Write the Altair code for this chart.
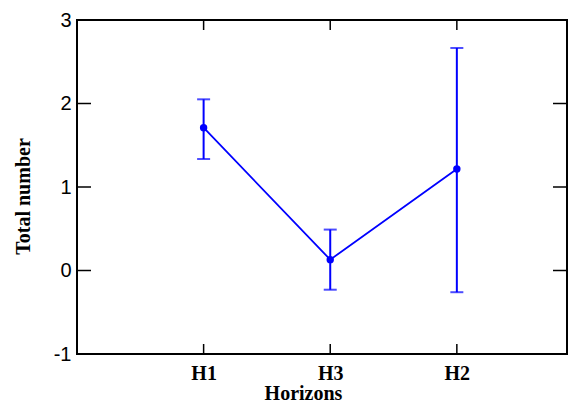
import altair as alt
import pandas as pd

categories = ["H1", "H3", "H2"]
positions = [1, 2, 3]
means = [1.71, 0.13, 1.215]
lows = [1.335, -0.23, -0.26]
highs = [2.05, 0.49, 2.665]
y_ticks = [-1, 0, 1, 2, 3]

df = pd.DataFrame({"pos": positions, "cat": categories, "mean": means, "low": lows, "high": highs})
yt = pd.DataFrame({"v": y_ticks})

W, H = 490, 334
xdom = [0, 3.87]
ydom = [-1, 3]
blue = "#0000FF"

label_expr = " : ".join([f"datum.value == {p} ? '{c}'" for p, c in zip(positions, categories)]) + " : ''"

xscale = alt.Scale(domain=xdom, nice=False, zero=False)
yscale = alt.Scale(domain=ydom, nice=False, zero=False)

base = alt.Chart(df)

line = base.mark_line(color=blue, strokeWidth=1.8).encode(
    x=alt.X("pos:Q", scale=xscale, axis=alt.Axis(
        values=positions, labelExpr=label_expr, ticks=False, grid=False, domain=False,
        labelFont="Liberation Serif", labelFontWeight="bold", labelFontSize=20, labelColor="black",
        labelPadding=9, title="Horizons", titleFont="Liberation Serif", titleFontWeight="bold",
        titleFontSize=20, titleColor="black", titleX=226, titleY=45, titleAnchor="middle", titleAlign="center",
        titleBaseline="alphabetic")),
    y=alt.Y("mean:Q", scale=yscale, axis=alt.Axis(
        values=y_ticks, ticks=False, grid=False, domain=False, labelExpr="'' + datum.value",
        labelFont="Liberation Sans", labelFontSize=20, labelColor="black", labelPadding=6,
        title="Total number", titleFont="Liberation Serif", titleFontWeight="bold", titleFontSize=20,
        titleColor="black", titleX=-54, titleY=176, titleAngle=270, titleAlign="center",
        titleBaseline="middle")),
)

points = base.mark_circle(color=blue, size=55, opacity=1).encode(x=alt.X("pos:Q", scale=xscale), y=alt.Y("mean:Q", scale=yscale))

bars = base.mark_rule(color=blue, strokeWidth=2).encode(
    x=alt.X("pos:Q", scale=xscale), y=alt.Y("low:Q", scale=yscale), y2="high:Q")

caps_hi = base.mark_tick(color=blue, orient="horizontal", size=13, thickness=2).encode(
    x=alt.X("pos:Q", scale=xscale), y=alt.Y("high:Q", scale=yscale))
caps_lo = base.mark_tick(color=blue, orient="horizontal", size=13, thickness=2).encode(
    x=alt.X("pos:Q", scale=xscale), y=alt.Y("low:Q", scale=yscale))

tl = alt.Chart(yt).mark_rule(color="black", strokeWidth=1.5).encode(
    y=alt.Y("v:Q", scale=yscale), x=alt.value(0), x2=alt.value(14))
tr = alt.Chart(yt).mark_rule(color="black", strokeWidth=1.5).encode(
    y=alt.Y("v:Q", scale=yscale), x=alt.value(W - 14), x2=alt.value(W))
tb = base.mark_rule(color="black", strokeWidth=1.5).encode(
    x=alt.X("pos:Q", scale=xscale), y=alt.value(H), y2=alt.value(H - 10))
tt = base.mark_rule(color="black", strokeWidth=1.5).encode(
    x=alt.X("pos:Q", scale=xscale), y=alt.value(0), y2=alt.value(10))

chart = alt.layer(tl, tr, tb, tt, line, bars, caps_hi, caps_lo, points).properties(
    width=W, height=H,
    autosize=alt.AutoSizeParams(type="none"),
    padding={"left": 77, "top": 20, "right": 3, "bottom": 51},
    background="white",
).configure_view(stroke="black", strokeWidth=2)

chart.save("out.html", embed_options={"renderer": "svg", "actions": False})
